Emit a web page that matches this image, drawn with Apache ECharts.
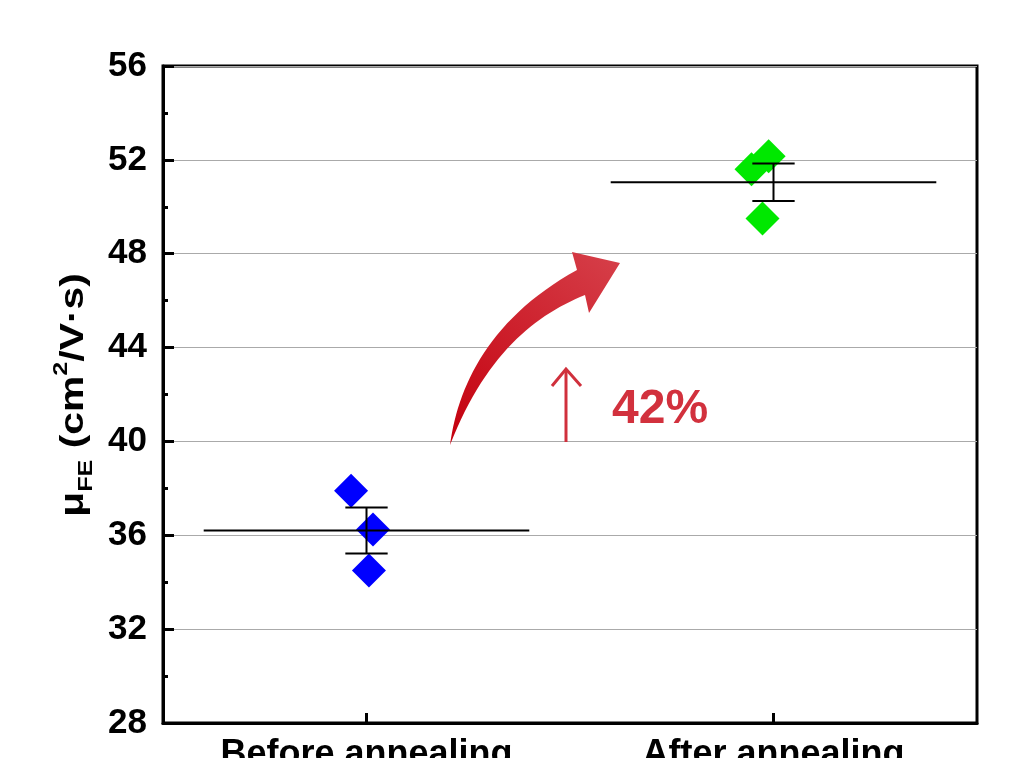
<!DOCTYPE html>
<html><head><meta charset="utf-8">
<script src="https://cdn.jsdelivr.net/npm/echarts@6/dist/echarts.min.js"></script>
<style>html,body{margin:0;padding:0;background:#fff}#c{width:1012px;height:758px}</style>
</head><body><div id="c"></div>
<script>
var categories = ['Before annealing', 'After annealing'];
var yTicks = [28, 32, 36, 40, 44, 48, 52, 56];
var beforeX = [0.462, 0.516, 0.506];
var beforeY = [37.9, 36.25, 34.5];
var afterX = [1.446, 1.488, 1.473];
var afterY = [51.6, 52.15, 49.5];
var meanValues = [36.2, 51.05];
var sdValues = [0.98, 0.8];

var FONT = '"Liberation Sans", Arial, sans-serif';
var chart = echarts.init(document.getElementById('c'));

function pairs(xs, ys){ return xs.map(function(x,i){ return [x, ys[i]]; }); }
function bez(p0, p1, p2, p3, n){
  var out = [];
  for (var i = 0; i <= n; i++){
    var t = i / n, u = 1 - t;
    out.push([u*u*u*p0[0] + 3*u*u*t*p1[0] + 3*u*t*t*p2[0] + t*t*t*p3[0],
              u*u*u*p0[1] + 3*u*u*t*p1[1] + 3*u*t*t*p2[1] + t*t*t*p3[1]]);
  }
  return out;
}
var arrowPts = bez([450,445],[458,385],[490,318],[577,270],30)
  .concat([[572,252],[620,263],[589,313]])
  .concat(bez([585,295],[535,315],[485,355],[450,445],30));

var statsData = meanValues.map(function(m,i){ return [i + 0.5, m, sdValues[i]]; });

chart.setOption({
  animation: false,
  backgroundColor: '#fff',
  grid: {left: 163, right: 35, top: 66, bottom: 35, outerBoundsMode: 'none', containLabel: false,
         show: true, borderColor: '#000', borderWidth: 3, backgroundColor: 'transparent'},
  xAxis: [{
    type: 'category', data: categories, boundaryGap: true, position: 'bottom',
    axisLine: {show: true, lineStyle: {color: '#000', width: 3}},
    axisTick: {show: true, inside: true, alignWithLabel: true, length: 10, lineStyle: {color: '#000', width: 3}},
    axisLabel: {color: '#000', fontSize: 36, fontWeight: 'bold', fontFamily: FONT, margin: 14},
    splitLine: {show: false}
  }, {
    type: 'value', min: 0, max: 2, show: false
  }],
  yAxis: {
    type: 'value', min: yTicks[0], max: yTicks[yTicks.length-1], interval: 4,
    axisLine: {show: true, lineStyle: {color: '#000', width: 3}},
    axisTick: {show: true, inside: true, length: 11, lineStyle: {color: '#000', width: 3}},
    minorTick: {show: true, splitNumber: 2, length: 5, lineStyle: {color: '#000', width: 3}},
    axisLabel: {color: '#000', fontSize: 35, fontWeight: 'bold', fontFamily: FONT, margin: 16},
    splitLine: {show: true, lineStyle: {color: '#aaa', width: 1}}
  },
  series: [{
    type: 'custom', xAxisIndex: 1, yAxisIndex: 0, z: 3,
    data: statsData,
    renderItem: function(params, api){
      var c = api.value(0), m = api.value(1), s = api.value(2);
      var l = api.coord([c - 0.4, m]), r = api.coord([c + 0.4, m]);
      var top = api.coord([c, m + s]), bot = api.coord([c, m - s]);
      var capL = api.coord([c - 0.052, m]), capR = api.coord([c + 0.052, m]);
      var st = {stroke: '#000', lineWidth: 2};
      return {type: 'group', children: [
        {type: 'line', shape: {x1: l[0], y1: l[1], x2: r[0], y2: r[1]}, style: st},
        {type: 'line', shape: {x1: top[0], y1: top[1], x2: bot[0], y2: bot[1]}, style: st},
        {type: 'line', shape: {x1: capL[0], y1: top[1], x2: capR[0], y2: top[1]}, style: st},
        {type: 'line', shape: {x1: capL[0], y1: bot[1], x2: capR[0], y2: bot[1]}, style: st}
      ]};
    }
  }, {
    type: 'scatter', xAxisIndex: 1, yAxisIndex: 0, z: 2,
    symbol: 'diamond', symbolSize: [34, 34],
    itemStyle: {color: '#0000ff', opacity: 1},
    data: pairs(beforeX, beforeY)
  }, {
    type: 'scatter', xAxisIndex: 1, yAxisIndex: 0, z: 2,
    symbol: 'diamond', symbolSize: [34, 34],
    itemStyle: {color: '#00e800', opacity: 1},
    data: pairs(afterX, afterY)
  }],
  graphic: [{
    type: 'text', z: 10, x: 74, y: 395, rotation: Math.PI / 2, scaleX: 1.2,
    style: {
      text: '{t|μ}{sub|FE}{t| (cm}{sup|2}{t|/V·s)}',
      align: 'center', verticalAlign: 'middle',
      rich: {
        t: {fontSize: 34, fontWeight: 'bold', fontFamily: FONT, fill: '#000', lineHeight: 46, verticalAlign: 'middle'},
        sub: {fontSize: 21, fontWeight: 'bold', fontFamily: FONT, fill: '#000', lineHeight: 46, verticalAlign: 'bottom'},
        sup: {fontSize: 21, fontWeight: 'bold', fontFamily: FONT, fill: '#000', lineHeight: 46, verticalAlign: 'top'}
      }
    }
  }, {
    type: 'polygon', z: 10,
    shape: {points: arrowPts},
    style: {fill: {type: 'linear', x: 0, y: 1, x2: 1, y2: 0, colorStops: [{offset: 0, color: '#c4000e'}, {offset: 1, color: '#d6404a'}]}}
  }, {
    type: 'polyline', z: 10,
    shape: {points: [[552, 386], [566, 369], [581, 386]]},
    style: {stroke: '#d0303c', lineWidth: 3, fill: null}
  }, {
    type: 'line', z: 10,
    shape: {x1: 566, y1: 369, x2: 566, y2: 442},
    style: {stroke: '#d0303c', lineWidth: 3}
  }, {
    type: 'text', z: 10, left: 612, top: 386,
    style: {text: '42%', fill: '#d2313d', font: 'bold 48px ' + FONT}
  }]
});
</script></body></html>
